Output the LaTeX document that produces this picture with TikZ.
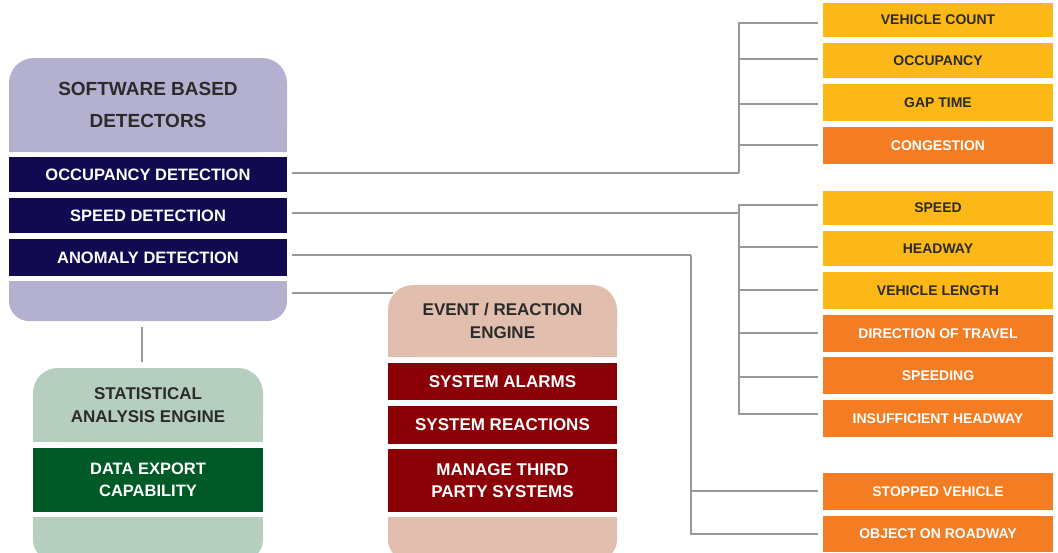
\documentclass[tikz,border=0pt]{standalone}
\usepackage{fontspec}
\setmainfont{Liberation Sans}
\definecolor{lav}{HTML}{B3B0D0}
\definecolor{navy}{HTML}{120A50}
\definecolor{lgreen}{HTML}{B6CEBE}
\definecolor{dgreen}{HTML}{005A27}
\definecolor{beige}{HTML}{E2BEAE}
\definecolor{dred}{HTML}{8A0006}
\definecolor{yel}{HTML}{FBB817}
\definecolor{ora}{HTML}{F47C22}
\definecolor{dtext}{HTML}{2B2B2B}
\definecolor{lgray}{HTML}{999999}
\begin{document}
\begin{tikzpicture}[x=1pt,y=-1pt,
  box/.style={rectangle, inner sep=0pt, align=center, text=white,
    font=\bfseries\fontsize{16.5}{22}\selectfont},
  hdr/.style={box, text=dtext, rounded corners=25pt,
    font=\bfseries\fontsize{17}{23}\selectfont},
  rbox/.style={box, minimum width=230pt, font=\bfseries\fontsize{14}{16}\selectfont},
  ybox/.style={rbox, fill=yel, text=dtext},
  obox/.style={rbox, fill=ora, text=white},
  conn/.style={draw=lgray, line width=1.6pt}]
\useasboundingbox (0,0) rectangle (1058,552);
\fill[white] (0,0) rectangle (1058,552);

% ---------- Software based detectors ----------
\fill[lav] (9,105) rectangle (287,152);
\node[hdr, fill=lav, minimum width=278pt, minimum height=94pt,
  font=\bfseries\fontsize{19}{32}\selectfont] (swh) at (148,105) {SOFTWARE BASED\\DETECTORS};
\node[box, fill=navy, minimum width=278pt, minimum height=35pt] (occd) at (148,174.5) {OCCUPANCY DETECTION};
\node[box, fill=navy, minimum width=278pt, minimum height=35pt] (spdd) at (148,215.5) {SPEED DETECTION};
\node[box, fill=navy, minimum width=278pt, minimum height=37pt] (anod) at (148,257.5) {ANOMALY DETECTION};
\node[box, fill=lav, rounded corners=20pt, minimum width=278pt, minimum height=40pt] (swb) at (148,301) {};
\fill[lav] (9,281) rectangle (287,301);

% ---------- Statistical analysis engine ----------
\fill[lgreen] (33,405) rectangle (263,442);
\node[hdr, fill=lgreen, minimum width=230pt, minimum height=74pt] (sth) at (148,405) {STATISTICAL\\ANALYSIS ENGINE};
\node[box, fill=dgreen, minimum width=230pt, minimum height=64pt] (stb) at (148,480) {DATA EXPORT\\CAPABILITY};
\node[box, fill=lgreen, rounded corners=20pt, minimum width=230pt, minimum height=43pt] (stf) at (148,538.5) {};
\fill[lgreen] (33,517) rectangle (263,538);

% ---------- Event / reaction engine ----------
\fill[beige] (388,321) rectangle (617,357);
\node[hdr, fill=beige, minimum width=229pt, minimum height=72pt] (evh) at (502.5,321) {EVENT / REACTION\\ENGINE};
\node[box, fill=dred, minimum width=229pt, minimum height=37pt, font=\bfseries\fontsize{17}{22}\selectfont] (eva) at (502.5,381.5) {SYSTEM ALARMS};
\node[box, fill=dred, minimum width=229pt, minimum height=38pt, font=\bfseries\fontsize{17}{22}\selectfont] (evr) at (502.5,425) {SYSTEM REACTIONS};
\node[box, fill=dred, minimum width=229pt, minimum height=63pt, font=\bfseries\fontsize{17}{22}\selectfont] (evm) at (502.5,480.5) {MANAGE THIRD\\PARTY SYSTEMS};
\node[box, fill=beige, rounded corners=20pt, minimum width=229pt, minimum height=43pt] (evf) at (502.5,538.5) {};
\fill[beige] (388,517) rectangle (617,538);

% ---------- Right-hand outputs ----------
\node[ybox, minimum height=34pt] (vc) at (938,20) {VEHICLE COUNT};
\node[ybox, minimum height=35pt] (oc) at (938,60.5) {OCCUPANCY};
\node[ybox, minimum height=37pt] (gt) at (938,102.5) {GAP TIME};
\node[obox, minimum height=37pt] (cg) at (938,145.5) {CONGESTION};

\node[ybox, minimum height=34pt] (sp) at (938,208) {SPEED};
\node[ybox, minimum height=35pt] (hw) at (938,248.5) {HEADWAY};
\node[ybox, minimum height=37pt] (vl) at (938,290.5) {VEHICLE LENGTH};
\node[obox, minimum height=37pt] (dt) at (938,333.5) {DIRECTION OF TRAVEL};
\node[obox, minimum height=37pt] (sg) at (938,375.5) {SPEEDING};
\node[obox, minimum height=37pt] (ih) at (938,418.5) {INSUFFICIENT HEADWAY};

\node[obox, minimum height=37pt] (sv) at (938,491.5) {STOPPED VEHICLE};
\node[obox, minimum height=36pt] (ob) at (938,534) {OBJECT ON ROADWAY};

% ---------- Connectors ----------
\coordinate (busA) at (739,173);
\coordinate (busB) at (739,213);
\coordinate (busC) at (691,255);

\draw[conn] ([shift={(5,-1.5)}]occd.east) -- (busA);
\foreach \n/\d in {vc/3,oc/-1.5,gt/1.5,cg/-0.5}
  \draw[conn] (busA) |- ([shift={(-5,\d)}]\n.west);

\draw[conn] ([shift={(5,-2.5)}]spdd.east) -- (busB);
\foreach \n/\d in {sp/-3,hw/-1.5,vl/-0.5,dt/-0.5,sg/1.5,ih/-4.5}
  \draw[conn] (busB) |- ([shift={(-5,\d)}]\n.west);

\draw[conn] ([shift={(5,-2.5)}]anod.east) -- (busC);
\foreach \n/\d in {sv/-0.5,ob/0}
  \draw[conn] (busC) |- ([shift={(-5,\d)}]\n.west);

\draw[conn] ([shift={(5,-8)}]swb.east) -- ([shift={(5,-8)}]swb.east -| evh.west);
\draw[conn] ([shift={(-6,6)}]swb.south) -- ([shift={(-6,-6)}]sth.north);
\end{tikzpicture}
\end{document}
